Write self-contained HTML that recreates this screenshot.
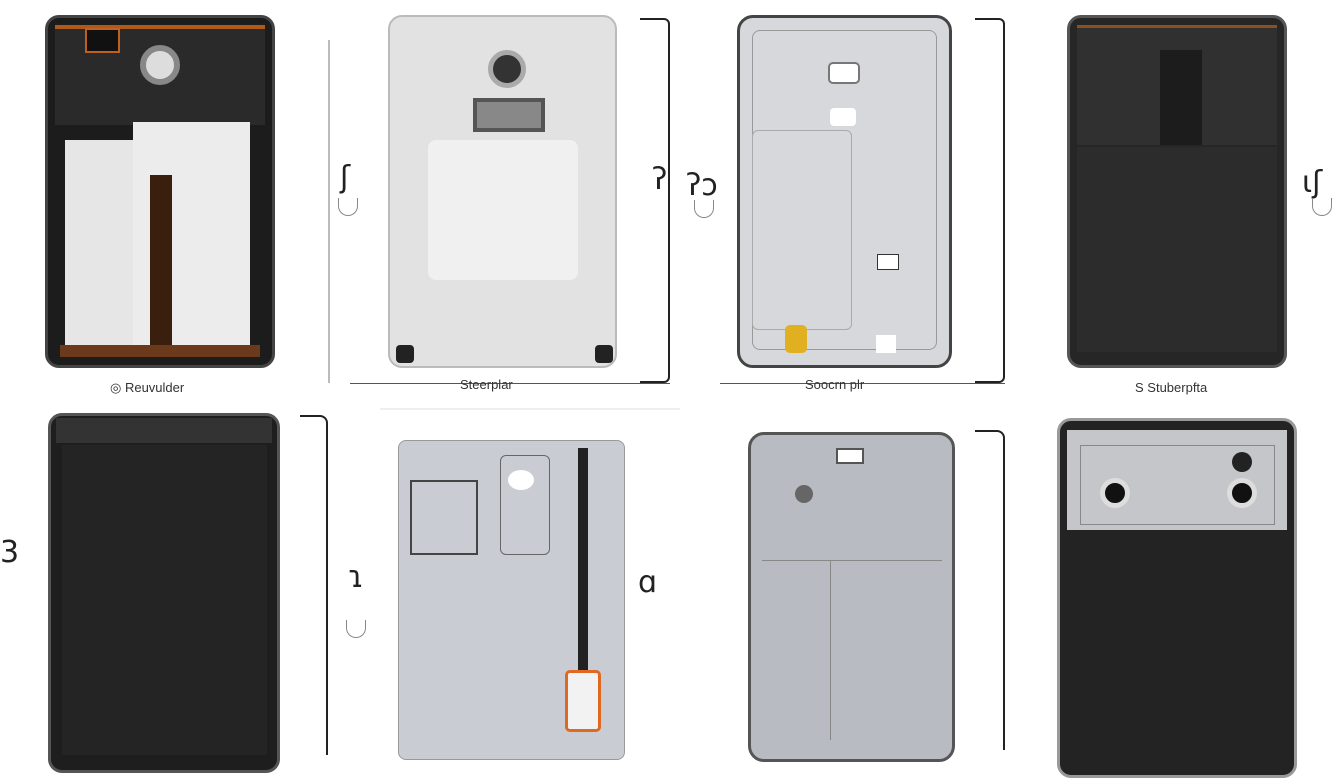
<!DOCTYPE html>
<html><head><meta charset="utf-8"><style>
body{margin:0;width:1344px;height:750px;background:#fff;position:relative;overflow:hidden;font-family:"Liberation Sans",sans-serif}
div{position:absolute;box-sizing:border-box}
.t{font-size:13px;color:#333;white-space:nowrap}
.g{font-size:30px;color:#222;font-family:"DejaVu Sans",sans-serif}
.u{width:20px;height:18px;border:1.5px solid #888;border-top:none;border-radius:0 0 10px 10px}
</style></head><body>
<!-- phone 1 -->
<div style="left:45px;top:15px;width:230px;height:353px;background:#1c1c1c;border-radius:14px;border:3px solid #444"></div>
<div style="left:55px;top:25px;width:210px;height:100px;background:#2a2a2a;border-top:4px solid #b05a1a"></div>
<div style="left:140px;top:45px;width:40px;height:40px;border-radius:50%;background:#ddd;border:6px solid #888"></div>
<div style="left:85px;top:28px;width:35px;height:25px;background:#111;border:2px solid #c06020"></div>
<div style="left:65px;top:140px;width:85px;height:205px;background:#e6e6e6"></div>
<div style="left:133px;top:122px;width:117px;height:223px;background:#ececec"></div>
<div style="left:150px;top:175px;width:22px;height:170px;background:#3a1e0e"></div>
<div style="left:60px;top:345px;width:200px;height:12px;background:#6a3a1a"></div>
<div class="t" style="left:110px;top:380px">◎ Reuvulder</div>
<!-- phone 2 -->
<div style="left:328px;top:40px;width:2px;height:343px;background:#bbb"></div>
<div style="left:350px;top:383px;width:320px;height:1px;background:#555"></div>
<div style="left:640px;top:18px;width:30px;height:365px;border:2px solid #222;border-left:none;border-radius:0 6px 6px 0"></div>
<div style="left:388px;top:15px;width:229px;height:353px;background:#e2e2e2;border-radius:14px;border:2px solid #bbb"></div>
<div style="left:428px;top:140px;width:150px;height:140px;background:#f0f0f0;border-radius:8px"></div>
<div style="left:488px;top:50px;width:38px;height:38px;border-radius:50%;background:#333;border:5px solid #aaa"></div>
<div style="left:473px;top:98px;width:72px;height:34px;background:#888;border:4px solid #555"></div>
<div style="left:396px;top:345px;width:18px;height:18px;background:#222;border-radius:4px"></div>
<div style="left:595px;top:345px;width:18px;height:18px;background:#222;border-radius:4px"></div>
<div class="g" style="left:340px;top:160px">ʃ</div><div class="u" style="left:338px;top:198px"></div>
<div class="g" style="left:652px;top:162px">ʔ</div>
<div class="t" style="left:460px;top:377px">Steerplar</div>
<!-- phone 3 -->
<div class="g" style="left:686px;top:168px">ʔɔ</div><div class="u" style="left:694px;top:200px"></div>
<div style="left:720px;top:383px;width:285px;height:1px;background:#555"></div>
<div style="left:975px;top:18px;width:30px;height:365px;border:2px solid #222;border-left:none;border-radius:0 6px 6px 0"></div>
<div style="left:737px;top:15px;width:215px;height:353px;background:#d6d8db;border-radius:16px;border:3px solid #444"></div>
<div style="left:752px;top:30px;width:185px;height:320px;border:1px solid #999;border-radius:8px"></div>
<div style="left:752px;top:130px;width:100px;height:200px;border:1px solid #aaa;border-radius:6px"></div>
<div style="left:828px;top:62px;width:32px;height:22px;background:#fff;border:2px solid #777;border-radius:5px"></div>
<div style="left:830px;top:108px;width:26px;height:18px;background:#fff;border-radius:4px"></div>
<div style="left:877px;top:254px;width:22px;height:16px;background:#fff;border:1px solid #333"></div>
<div style="left:785px;top:325px;width:22px;height:28px;background:#e0b020;border-radius:5px"></div>
<div style="left:876px;top:335px;width:20px;height:18px;background:#fff"></div>
<div class="t" style="left:805px;top:377px">Soocrn plr</div>
<!-- phone 4 -->
<div style="left:1067px;top:15px;width:220px;height:353px;background:#262626;border-radius:14px;border:3px solid #555"></div>
<div style="left:1077px;top:25px;width:200px;height:120px;background:#303030;border-top:3px solid #8a5020"></div>
<div style="left:1160px;top:50px;width:42px;height:95px;background:#1c1c1c"></div>
<div style="left:1077px;top:147px;width:200px;height:205px;background:#2c2c2c"></div>
<div class="g" style="left:1302px;top:165px">ɩʃ</div><div class="u" style="left:1312px;top:198px"></div>
<div class="t" style="left:1135px;top:380px">S Stuberpfta</div>
<!-- phone 5 -->
<div style="left:48px;top:413px;width:232px;height:360px;background:#1e1e1e;border-radius:14px;border:3px solid #555"></div>
<div style="left:56px;top:418px;width:216px;height:25px;background:#333"></div>
<div style="left:62px;top:445px;width:205px;height:310px;background:#242424"></div>
<div style="left:300px;top:415px;width:28px;height:340px;border:2px solid #222;border-left:none;border-bottom:none;border-radius:0 8px 0 0"></div>
<div class="g" style="left:0px;top:535px">3</div>
<!-- phone 6 -->
<div style="left:380px;top:408px;width:300px;height:2px;background:#eee"></div>
<div style="left:398px;top:440px;width:227px;height:320px;background:#c9ccd2;border-radius:8px;border:1px solid #999"></div>
<div style="left:410px;top:480px;width:68px;height:75px;border:2px solid #444"></div>
<div style="left:500px;top:455px;width:50px;height:100px;border:1px solid #666;border-radius:6px"></div>
<div style="left:508px;top:470px;width:26px;height:20px;background:#fff;border-radius:50%"></div>
<div style="left:578px;top:448px;width:10px;height:230px;background:#222"></div>
<div style="left:565px;top:670px;width:36px;height:62px;background:#f2f2f2;border:3px solid #e06820;border-radius:5px"></div>
<div class="g" style="left:348px;top:560px">ɿ</div><div class="u" style="left:346px;top:620px"></div>
<div class="g" style="left:638px;top:565px">ɑ</div>
<!-- phone 7 -->
<div style="left:748px;top:432px;width:207px;height:330px;background:#b8bcc2;border-radius:16px;border:3px solid #555"></div>
<div style="left:836px;top:448px;width:28px;height:16px;background:#fff;border:2px solid #555"></div>
<div style="left:795px;top:485px;width:18px;height:18px;background:#666;border-radius:50%"></div>
<div style="left:762px;top:560px;width:180px;height:1px;background:#888"></div>
<div style="left:830px;top:560px;width:1px;height:180px;background:#888"></div>
<div style="left:975px;top:430px;width:30px;height:320px;border:2px solid #222;border-left:none;border-bottom:none;border-radius:0 8px 0 0"></div>
<!-- phone 8 -->
<div style="left:1057px;top:418px;width:240px;height:360px;background:#232323;border-radius:14px;border:3px solid #999"></div>
<div style="left:1067px;top:430px;width:220px;height:100px;background:#c4c6c9"></div>
<div style="left:1080px;top:445px;width:195px;height:80px;border:1px solid #888"></div>
<div style="left:1100px;top:478px;width:30px;height:30px;border-radius:50%;background:#111;border:5px solid #ddd"></div>
<div style="left:1227px;top:478px;width:30px;height:30px;border-radius:50%;background:#111;border:5px solid #ddd"></div>
<div style="left:1232px;top:452px;width:20px;height:20px;border-radius:50%;background:#222"></div>
</body></html>
